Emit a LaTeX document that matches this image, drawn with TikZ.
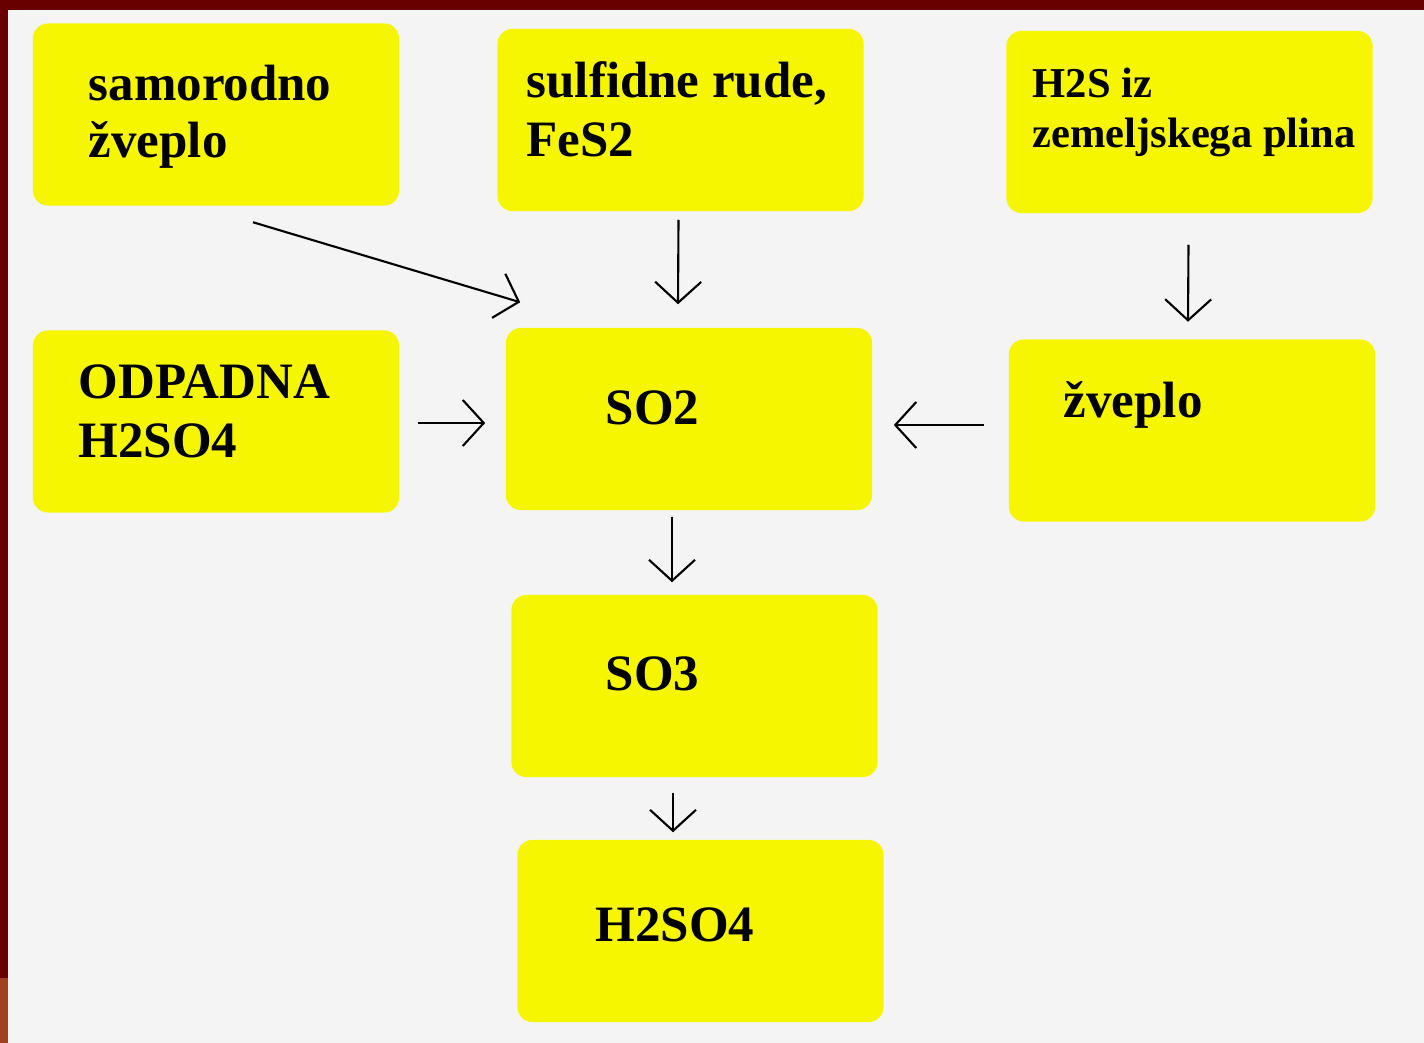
\documentclass[tikz,border=0pt]{standalone}
\usepackage{fontspec}
\setmainfont{Liberation Serif}
\usepackage{tikz}
\usetikzlibrary{arrows.meta, calc}

\definecolor{yelbox}{RGB}{246,246,0}
\definecolor{paper}{RGB}{244,244,244}
\definecolor{frame}{RGB}{105,0,0}
\definecolor{framelow}{RGB}{160,64,31}

\begin{document}
\begin{tikzpicture}[
    x=0.01cm, y=-0.01cm,
    box/.style={fill=yelbox, rounded corners=0.15cm, minimum width=3.66cm, minimum height=1.82cm, inner sep=0pt},
    lbl/.style={anchor=base west, inner sep=0pt, align=left, font=\bfseries\fontsize{14.5pt}{17pt}\selectfont},
    small/.style={lbl, font=\bfseries\fontsize{12.1pt}{14.5pt}\selectfont},
    arr/.style={-{Straight Barb[length=0.21cm, width=0.46cm]}, line width=0.6pt},
]
% Background with frame
\useasboundingbox (0,0) rectangle (1424,1043);
\fill[frame] (0,0) rectangle (1424,1043);
\fill[framelow] (0,978) rectangle (8,1043);
\fill[paper] (8,10) rectangle (1424,1043);

% Sources (base = last line)
\node[box] (samo) at (216,114.5) {};
\node[lbl] (samo-t) at (88,158) {samorodno\\[-0.6pt]žveplo};
\node[box] (sulf) at (680.5,120) {};
\node[lbl] (sulf-t) at (526,157) {sulfidne rude,\\FeS2};
\node[box] (hzs) at (1189.5,122) {};
\node[small] (hzs-t) at (1032,148) {H2S iz\\zemeljskega plina};
\node[box] (odp) at (216,421.5) {};
\node[lbl] (odp-t) at (78,458) {ODPADNA\\H2SO4};

% Middle row
\node[box] (so2) at (689,419) {};
\node[lbl] (so2-t) at (605,425) {SO2};
\node[box] (zvep) at (1192,430.5) {};
\node[lbl] (zvep-t) at (1063,418) {žveplo};

% Products
\node[box] (so3) at (694.5,686) {};
\node[lbl] (so3-t) at (605,690) {SO3};
\node[box] (hso) at (700.5,931) {};
\node[lbl] (hso-t) at (595,941) {H2SO4};

% Arrows
\draw[arr] ($(samo.south)+(37,16)$) -- ($(so2.north west)+(15,-25)$);
\draw[arr] ($(sulf.south)+(-2,8)$) -- ($(so2.north)+(-11,-23)$);
\draw[arr] ($(hzs.south)+(-1,31)$) -- ($(zvep.north)+(-4,-17)$);
\draw[arr] ($(odp.east)+(18,1.5)$) -- ($(so2.west)+(-20,4)$);
\draw[arr] ($(zvep.west)+(-24,-5.5)$) -- ($(so2.east)+(21,6)$);
\draw[arr] ($(so2.south)+(-17,6)$) -- ($(so3.north)+(-22.5,-12)$);
\draw[arr] ($(so3.south)+(-21.5,15)$) -- ($(hso.north)+(-27.5,-7)$);
\end{tikzpicture}
\end{document}
